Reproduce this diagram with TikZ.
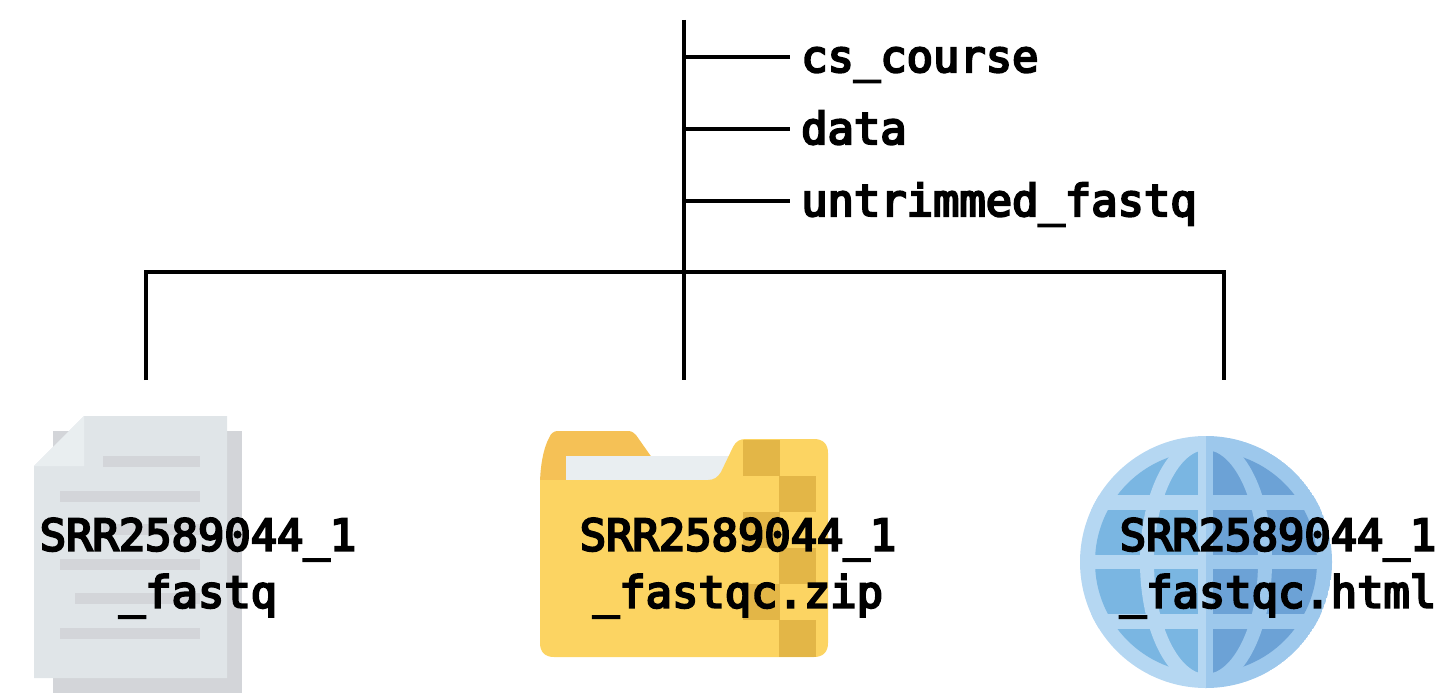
\documentclass[tikz,border=0pt]{standalone}
\usepackage{fontspec}
\newfontfamily\lblfont{DejaVu Sans Mono}[FakeBold=5]
\definecolor{sheetfront}{HTML}{E0E5E8}
\definecolor{sheetback}{HTML}{D3D5D9}
\definecolor{sheetfold}{HTML}{E9EEF0}
\definecolor{tabcol}{HTML}{F5C156}
\definecolor{foldercol}{HTML}{FCD462}
\definecolor{zipcol}{HTML}{E3B647}
\definecolor{papercol}{HTML}{E9EEF1}
\definecolor{globeL}{HTML}{B5D7F2}
\definecolor{globeR}{HTML}{9DC8EC}
\definecolor{cellL}{HTML}{7AB6E2}
\definecolor{cellR}{HTML}{6CA2D6}
\tikzset{
  tree/.style={line width=3.5pt,black},
  lbl/.style={font=\lblfont\fontsize{43.8}{57}\selectfont,text=black,inner sep=0pt,align=center},
  dirlbl/.style={font=\lblfont\fontsize{43.8}{57}\selectfont,text=black,inner ysep=0pt,inner xsep=11pt,anchor=base west},
}
\newcommand{\globehalf}[4]{%
  \begin{scope}
    \clip (1206,562) circle (126);
    \clip (#1,430) rectangle (#2,700);
    \fill[#3] (1206,562) circle (126);
    \fill[#4] (1206,562) circle (111);
    \draw[#3,line width=14pt] (1206,562) ellipse (59 and 119);
    \fill[#3] (1060,495) rectangle (1350,510);
    \fill[#3] (1060,554.5) rectangle (1350,569);
    \fill[#3] (1060,614) rectangle (1350,629);
    \fill[#3] (1198.3,430) rectangle (1213.3,700);
  \end{scope}}
\begin{document}
\begin{tikzpicture}[x=1pt,y=-1pt]
\useasboundingbox (0,0) rectangle (1440,693);
% document icon
\fill[sheetback] (53,431) rectangle (242,693);
\fill[sheetfront] (84,416) -- (227,416) -- (227,678) -- (34,678) -- (34,466) -- cycle;
\fill[sheetfold] (84,416) -- (84,466) -- (34,466) -- cycle;
\foreach \xa/\ya in {103/456,60/491,103/524,60/559,75/593,60/628}
  \fill[sheetback] (\xa,\ya) rectangle (200,\ya+10.5);
% folder icon
\fill[tabcol] (540,485) .. controls (540,465) and (544,447) .. (549,438) .. controls (551,433) and (554,431) .. (558,431) -- (628,431) .. controls (632,431) and (634,433) .. (636,435) -- (655,462) -- (655,485) -- cycle;
\fill[papercol] (566,456) rectangle (735,482);
\fill[foldercol] (540,480) -- (708,480) .. controls (714,480) and (718,477) .. (721,472) -- (733,447) .. controls (736,441) and (740,439) .. (746,439) -- (814,439) .. controls (823,439) and (828,444) .. (828,453) -- (828,643) .. controls (828,652) and (823,657) .. (814,657) -- (554,657) .. controls (545,657) and (540,652) .. (540,643) -- cycle;
\foreach \xa/\ya/\yb in {743/440/476,779/476/512,743/512/548,779/548/584,743/584/620,779/620/657}
  \fill[zipcol] (\xa,\ya) rectangle (\xa+36.5,\yb);
% globe icon
\globehalf{1060}{1206}{globeL}{cellL}
\globehalf{1206}{1350}{globeR}{cellR}
% tree
\coordinate (top) at (684,20);
\coordinate (hub) at (684,272);
\coordinate (midend) at (684,380);
\coordinate (lefttop) at (146,272);
\coordinate (leftend) at (146,380);
\coordinate (righttop) at (1224,272);
\coordinate (rightend) at (1224,380);
\coordinate (b1) at (684,57);
\coordinate (b2) at (684,129);
\coordinate (b3) at (684,201);
\node[dirlbl] (cs) at (790,72) {cs\_course};
\node[dirlbl] (data) at (790,144) {data};
\node[dirlbl] (untr) at (790,216) {untrimmed\_fastq};
\node[lbl] (fq) at (198,568) {SRR2589044\_1\\\_fastq};
\node[lbl] (zip) at (738,568) {SRR2589044\_1\\\_fastqc.zip};
\node[lbl] (html) at (1278,568) {SRR2589044\_1\\\_fastqc.html};
\draw[tree] (top) -- (midend);
\draw[tree] (b1) -- (b1 -| cs.west);
\draw[tree] (b2) -- (b2 -| data.west);
\draw[tree] (b3) -- (b3 -| untr.west);
\draw[tree,line join=miter] (leftend) -- (lefttop) -- (hub) -- (righttop) -- (rightend);
\end{tikzpicture}
\end{document}
